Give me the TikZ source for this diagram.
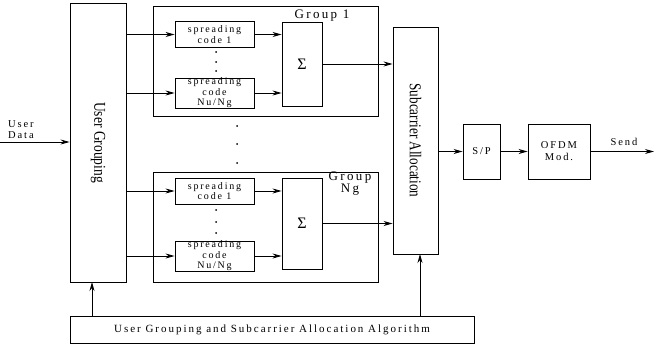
\documentclass[tikz,border=0pt]{standalone}
\usepackage{fontspec}
\setmainfont{Liberation Serif}
\newfontfamily\spacedfont[LetterSpace=18]{Liberation Serif}
\usetikzlibrary{arrows.meta}
\tikzstyle{block} = [rectangle, draw=black, line width=0.9pt, inner sep=0pt, text centered]
\tikzstyle{code} = [block, minimum width=79pt, minimum height=26pt, align=center, font=\spacedfont\fontsize{10}{10.5}\selectfont]
\tikzstyle{group} = [block, minimum width=225pt, minimum height=110pt]
\tikzstyle{summer} = [block, minimum width=40pt, font=\fontsize{16}{16}\selectfont]
\tikzstyle{small} = [block, minimum height=55pt, align=center, font=\spacedfont\fontsize{10.5}{12}\selectfont]
\tikzstyle{vtext} = [rotate=-90, font=\fontsize{16.5}{17}\selectfont]
\tikzstyle{txt} = [align=center, inner sep=0pt, font=\spacedfont\fontsize{10.5}{11}\selectfont]
\tikzstyle{arrow} = [line width=0.9pt,-{Stealth[length=9pt,width=5pt]}]

\begin{document}
\begin{tikzpicture}[x=1pt, y=-1pt]
\useasboundingbox (0,0) rectangle (654,345);

\node (ug) [block, minimum width=56pt, minimum height=279pt] at (98,142.5) {};
\node (uglabel) [vtext] at (ug) {\scalebox{0.82}[1]{User Grouping}};

% group 1
\node (g1) [group] at (265.5,61) {};
\node (g1label) [txt, font=\spacedfont\fontsize{13}{13}\selectfont] at (322,16) {Group 1};
\node (c11) [code] at (214.5,34.5) {spreading\\code 1};
\node (c1n) [code] at (214.5,93) {spreading\\code\\Nu/Ng};
\node (s1) [summer, minimum height=84pt] at (302,64) {Σ};

% group Ng
\node (gn) [group] at (265.5,227) {};
\node (gnlabel) [txt, font=\spacedfont\fontsize{13}{12}\selectfont] at (350,184) {Group\\Ng};
\node (cn1) [code] at (214.5,191) {spreading\\code 1};
\node (cnn) [code] at (214.5,256) {spreading\\code\\Nu/Ng};
\node (sn) [summer, minimum height=91pt] at (302,223.5) {Σ};

\node (sub) [block, minimum width=45pt, minimum height=227pt] at (415.5,140.5) {};
\node (sublabel) [vtext] at (sub) {\scalebox{0.8}[1]{Subcarrier Allocation}};

\node (sp) [small, minimum width=37pt] at (481.5,151.5) {S/P};
\node (ofdm) [small, minimum width=62pt] at (559,151.5) {OFDM\\Mod.};

\node (alg) [block, minimum width=404pt, minimum height=27pt, font=\spacedfont\fontsize{11}{11}\selectfont] at (272,329.5) {User Grouping and Subcarrier Allocation Algorithm};

\coordinate (in) at (0,142);
\coordinate (send) at (654,151.5);
\coordinate (ugin) at (92,282);
\coordinate (subin) at (420,254);
\node (datalabel) [txt, align=left, anchor=south west] at (8,139) {User\\Data};
\node (sendlabel) [txt, anchor=south] at (624,146) {Send};

% dots
\foreach \y in {52,62,71,210,222,233}
  \fill (216,\y) circle (1pt);
\foreach \y in {126,144,163}
  \fill (237,\y) circle (1pt);

\draw [arrow] (in) -- (ug.west |- in);
\foreach \c/\s in {c11/s1, c1n/s1, cn1/sn, cnn/sn} {
  \draw [arrow] (ug.east |- \c) -- (\c);
  \draw [arrow] (\c) -- (\s.west |- \c);
}
\draw [arrow] (s1) -- (s1 -| sub.west);
\draw [arrow] (sn) -- (sn -| sub.west);
\draw [arrow] (sub.east |- sp) -- (sp);
\draw [arrow] (sp) -- (ofdm);
\draw [arrow] (ofdm) -- (send);
\draw [arrow] (alg.north -| ugin) -- (ugin);
\draw [arrow] (alg.north -| subin) -- (subin);
\end{tikzpicture}
\end{document}
